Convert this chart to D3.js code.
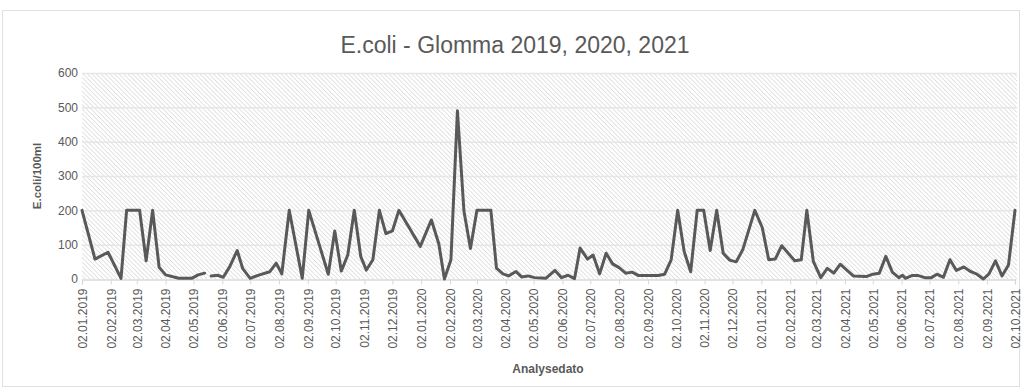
<!DOCTYPE html>
<html>
<head>
<meta charset="utf-8">
<script src="https://cdn.jsdelivr.net/npm/d3@7"></script>
<style>
  body { margin: 0; background: #fff; }
  svg { display: block; font-family: "Liberation Sans", Arial, sans-serif; }
</style>
</head>
<body>
<div id="wrapper"></div>
<script>
// sample dates and E.coli values (null = missing sample, breaks the line)
const sampleDates = ["02.01.2019","16.01.2019","30.01.2019","13.02.2019","19.02.2019","05.03.2019","12.03.2019","19.03.2019","26.03.2019","02.04.2019",
  "16.04.2019","30.04.2019","07.05.2019","14.05.2019","17.05.2019","21.05.2019","28.05.2019","03.06.2019","10.06.2019","18.06.2019",
  "24.06.2019","02.07.2019","12.07.2019","23.07.2019","30.07.2019","05.08.2019","13.08.2019","27.08.2019","03.09.2019","24.09.2019",
  "01.10.2019","08.10.2019","15.10.2019","22.10.2019","29.10.2019","04.11.2019","11.11.2019","18.11.2019","25.11.2019","02.12.2019",
  "09.12.2019","01.01.2020","13.01.2020","21.01.2020","27.01.2020","03.02.2020","10.02.2020","17.02.2020","24.02.2020","02.03.2020",
  "17.03.2020","23.03.2020","30.03.2020","05.04.2020","13.04.2020","19.04.2020","26.04.2020","03.05.2020","15.05.2020","25.05.2020",
  "01.06.2020","08.06.2020","15.06.2020","21.06.2020","29.06.2020","05.07.2020","12.07.2020","19.07.2020","26.07.2020","02.08.2020",
  "09.08.2020","16.08.2020","23.08.2020","03.09.2020","13.09.2020","20.09.2020","27.09.2020","04.10.2020","11.10.2020","18.10.2020",
  "25.10.2020","01.11.2020","08.11.2020","15.11.2020","22.11.2020","29.11.2020","06.12.2020","13.12.2020","26.12.2020","03.01.2021",
  "10.01.2021","17.01.2021","24.01.2021","07.02.2021","14.02.2021","20.02.2021","27.02.2021","07.03.2021","14.03.2021","21.03.2021",
  "28.03.2021","04.04.2021","11.04.2021","25.04.2021","02.05.2021","09.05.2021","16.05.2021","23.05.2021","30.05.2021","03.06.2021",
  "06.06.2021","13.06.2021","20.06.2021","27.06.2021","04.07.2021","10.07.2021","17.07.2021","24.07.2021","31.07.2021","08.08.2021",
  "15.08.2021","22.08.2021","29.08.2021","04.09.2021","11.09.2021","18.09.2021","25.09.2021","02.10.2021"];

const ecoli = [200,58,78,2,200,200,53,200,34,12,
  2,2,12,17,null,9,11,5,36,83,
  30,2,12,21,46,15,200,2,200,14,
  140,23,70,200,65,26,56,200,132,140,
  200,95,172,102,0,56,490,198,89,200,
  200,32,15,9,22,6,9,4,2,25,
  4,11,1,90,58,70,15,75,44,33,
  17,20,10,10,10,14,56,200,80,21,
  200,200,83,200,75,55,50,85,200,150,
  56,58,97,53,56,200,51,4,31,17,
  43,26,9,7,14,17,66,20,4,11,
  2,10,10,4,4,14,5,56,25,35,
  22,14,0,15,53,9,41,200];

const xTickLabels = ["02.01.2019","02.02.2019","02.03.2019","02.04.2019","02.05.2019","02.06.2019","02.07.2019","02.08.2019",
  "02.09.2019","02.10.2019","02.11.2019","02.12.2019","02.01.2020","02.02.2020","02.03.2020","02.04.2020","02.05.2020",
  "02.06.2020","02.07.2020","02.08.2020","02.09.2020","02.10.2020","02.11.2020","02.12.2020","02.01.2021","02.02.2021",
  "02.03.2021","02.04.2021","02.05.2021","02.06.2021","02.07.2021","02.08.2021","02.09.2021","02.10.2021"];
const yTicks = [0,100,200,300,400,500,600];

const W = 1022, H = 390;
const plot = {left: 82, right: 1015, top: 73, bottom: 279};
const txt = "#595959";

const parseDay = d3.timeParse("%d.%m.%Y");
const data = sampleDates.map((d, i) => ({date: parseDay(d), value: ecoli[i]}));
const tickDates = xTickLabels.map(parseDay);

var svg = d3.select("#wrapper").append("svg").attr("width", W).attr("height", H);

// chart area border
svg.append("rect").attr("x", 2.5).attr("y", 10.5).attr("width", W - 5).attr("height", H - 14)
  .attr("fill", "#fff").attr("stroke", "#e0e0e0");

// hatch pattern for plot background
var pat = svg.append("defs").append("pattern").attr("id", "hatch")
  .attr("patternUnits", "userSpaceOnUse").attr("width", 4.5).attr("height", 4.5);
pat.append("rect").attr("width", 4.5).attr("height", 4.5).attr("fill", "#fff");
pat.append("path").attr("d", "M-1,-1 L5.5,5.5 M-1,3.5 L1,5.5 M3.5,-1 L5.5,1")
  .attr("stroke", "#d2d2d2").attr("stroke-width", 0.9);

var x = d3.scaleTime().domain([tickDates[0], tickDates[tickDates.length - 1]]).range([plot.left, plot.right]);
var y = d3.scaleLinear().domain([0, 600]).range([plot.bottom, plot.top]);

svg.append("rect").attr("x", plot.left).attr("y", plot.top)
  .attr("width", plot.right - plot.left + 2).attr("height", plot.bottom - plot.top)
  .attr("fill", "url(#hatch)");

// gridlines
svg.append("g").selectAll("line").data(yTicks.slice(1)).enter().append("line")
  .attr("x1", plot.left).attr("x2", plot.right + 2)
  .attr("y1", d => y(d) + 0.5).attr("y2", d => y(d) + 0.5)
  .attr("stroke", "#e6e6e6").attr("stroke-width", 1.5);

// y axis labels
var yAxis = svg.append("g").attr("transform", "translate(" + (plot.left - 2) + ",0)")
  .call(d3.axisLeft(y).tickValues(yTicks).tickSize(0).tickPadding(2));
yAxis.select(".domain").remove();
yAxis.selectAll("text").attr("fill", txt).style("font-size", "12px");

// x axis
var xAxis = svg.append("g").attr("transform", "translate(0," + (plot.bottom + 0.5) + ")")
  .call(d3.axisBottom(x).tickValues(tickDates).tickSize(5).tickFormat((d, i) => xTickLabels[i]));
xAxis.select(".domain").attr("stroke", "#d9d9d9").attr("stroke-width", 1.3);
xAxis.selectAll(".tick line").attr("stroke", "#d9d9d9");
xAxis.selectAll("text")
  .attr("fill", txt).style("font-size", "12px")
  .attr("transform", "rotate(-90)").attr("x", -9).attr("y", 0).attr("dy", "0.35em")
  .style("text-anchor", "end");

// series line
var line = d3.line().defined(d => d.value !== null).x(d => x(d.date)).y(d => y(d.value));
svg.append("path").datum(data).attr("d", line)
  .attr("fill", "none").attr("stroke", "#595959").attr("stroke-width", 3)
  .attr("stroke-linejoin", "round").attr("stroke-linecap", "round");

// titles
svg.append("text").attr("x", 515).attr("y", 53).attr("text-anchor", "middle")
  .attr("fill", txt).style("font-size", "23px").text("E.coli - Glomma 2019, 2020, 2021");
svg.append("text").attr("transform", "translate(41,176) rotate(-90)").attr("text-anchor", "middle")
  .attr("fill", txt).style("font-size", "11.5px").style("font-weight", "bold").text("E.coli/100ml");
svg.append("text").attr("x", 548).attr("y", 373).attr("text-anchor", "middle")
  .attr("fill", txt).style("font-size", "12px").style("font-weight", "bold").text("Analysedato");
</script>
</body>
</html>
